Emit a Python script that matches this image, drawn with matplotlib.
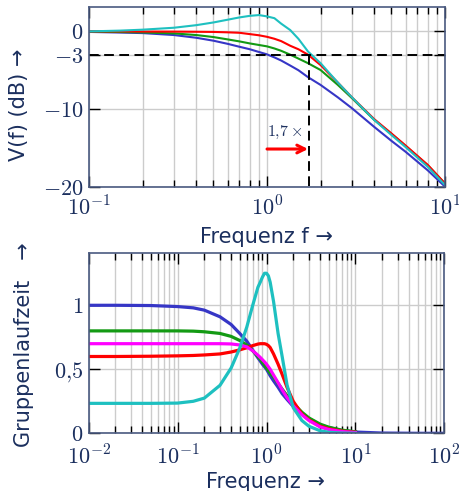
import matplotlib
matplotlib.use("Agg")
import matplotlib.pyplot as plt
from matplotlib.ticker import NullFormatter

plt.rcParams['mathtext.fontset'] = 'cm'

# --- Amplitudengang (dB) ---
f_top = [0.1, 0.15, 0.2, 0.3, 0.4, 0.5, 0.6, 0.7, 0.8, 0.9, 1.0, 1.1, 1.2,
         1.35, 1.5, 1.7, 2.0, 2.5, 3.0, 4.0, 5.0, 6.0, 8.0, 10.0]
v_blue = [-0.07, -0.15, -0.22, -0.47, -0.82, -1.2, -1.6, -1.98, -2.3, -2.65, -2.96,
          -3.35, -3.75, -4.4, -5.0, -5.9, -6.9, -8.5, -9.9, -12.3, -14.1, -15.5, -17.9, -20.0]
v_green = [-0.03, -0.08, -0.13, -0.26, -0.47, -0.73, -1.03, -1.29, -1.55, -1.75, -1.93,
           -2.2, -2.5, -3.0, -3.5, -4.1, -4.98, -6.9, -8.6, -11.4, -13.2, -14.75, -17.25, -19.6]
v_red = [0.0, 0.0, -0.02, -0.03, -0.05, -0.07, -0.12, -0.18, -0.35, -0.5, -0.7,
         -0.95, -1.25, -1.85, -2.3, -3.0, -4.34, -6.6, -8.5, -11.3, -13.15, -14.7, -17.2, -19.6]
v_cyan = [0.0, 0.1, 0.22, 0.47, 0.8, 1.15, 1.5, 1.8, 2.0, 2.1, 1.93,
          1.7, 1.0, 0.17, -0.95, -2.6, -4.1, -6.6, -8.5, -11.4, -13.35, -14.9, -17.45, -19.8]

# --- Gruppenlaufzeit ---
f_bot = [0.01, 0.02, 0.05, 0.1, 0.15, 0.2, 0.3, 0.4, 0.5, 0.6, 0.7, 0.8, 0.85, 0.9,
         0.95, 1.0, 1.05, 1.1, 1.2, 1.35, 1.5, 1.7, 2.0, 2.5, 3.0, 4.0, 5.0, 7.0, 10.0]
g_blue = [1.0, 1.0, 0.998, 0.99, 0.98, 0.962, 0.91, 0.85, 0.78, 0.72, 0.65, 0.59, 0.565, 0.54,
          0.52, 0.50, 0.475, 0.45, 0.41, 0.36, 0.31, 0.265, 0.21, 0.15, 0.115, 0.065, 0.045, 0.022, 0.01]
g_green = [0.80, 0.80, 0.80, 0.80, 0.798, 0.793, 0.78, 0.757, 0.725, 0.69, 0.645, 0.60, 0.578, 0.555,
           0.533, 0.51, 0.49, 0.47, 0.44, 0.39, 0.345, 0.295, 0.235, 0.165, 0.12, 0.072, 0.048, 0.025, 0.012]
g_red = [0.60, 0.60, 0.602, 0.605, 0.608, 0.612, 0.62, 0.635, 0.652, 0.668, 0.685, 0.697, 0.70, 0.70,
         0.70, 0.695, 0.685, 0.67, 0.62, 0.54, 0.46, 0.36, 0.25, 0.15, 0.105, 0.055, 0.035, 0.017, 0.008]
g_magenta = [0.70, 0.70, 0.70, 0.70, 0.70, 0.70, 0.70, 0.698, 0.69, 0.675, 0.645, 0.61, 0.593, 0.575,
             0.558, 0.54, 0.52, 0.50, 0.455, 0.395, 0.34, 0.28, 0.215, 0.145, 0.10, 0.05, 0.03, 0.014, 0.006]
g_cyan = [0.234, 0.234, 0.234, 0.236, 0.25, 0.275, 0.375, 0.51, 0.665, 0.83, 1.0, 1.14, 1.18, 1.22,
          1.25, 1.25, 1.23, 1.18, 1.03, 0.78, 0.6, 0.38, 0.2, 0.1, 0.055, 0.02, 0.008, 0.002, 0.0]
f_tail = [10.0, 20.0, 50.0, 100.0]
g_blue_tail = [0.01, 0.002, 0.0, 0.0]

navy = '#1b2f5e'
frame = '#4a5a80'
grid_c = '#cccccc'
c_blue, c_green, c_red, c_cyan, c_mag = '#3636c6', '#139a13', '#ff0000', '#1ec0c0', '#ff00ff'

fig = plt.figure(figsize=(4.6, 4.91), dpi=100)
ax1 = fig.add_axes([0.1935, 0.6198, 0.774, 0.3653])
ax2 = fig.add_axes([0.1928, 0.1175, 0.7731, 0.3666])


def style(ax):
    ax.set_xscale('log')
    ax.grid(which='both', axis='x', color=grid_c, lw=1)
    ax.grid(which='major', axis='y', color=grid_c, lw=1)
    ax.set_axisbelow(True)
    ax.tick_params(which='both', direction='in', top=True, right=True,
                   colors='black', labelcolor=navy, labelsize=16, width=1)
    ax.tick_params(which='major', length=8)
    ax.tick_params(which='minor', length=5)
    ax.tick_params(axis='x', which='major', pad=6)
    ax.tick_params(axis='y', which='major', pad=4)
    ax.xaxis.set_minor_formatter(NullFormatter())
    for s in ax.spines.values():
        s.set_color(frame)
        s.set_linewidth(1.2)


# oben
style(ax1)
ax1.plot(f_top, v_blue, color=c_blue, lw=1.5)
ax1.plot(f_top, v_green, color=c_green, lw=1.5)
ax1.plot(f_top, v_red, color=c_red, lw=1.5)
ax1.plot(f_top, v_cyan, color=c_cyan, lw=1.5)
ax1.plot([0.1, 10], [-3, -3], color='black', lw=1.4, ls=(0, (5, 2.8)))
ax1.plot([1.71, 1.71], [-3, -20], color='black', lw=1.4, ls=(0, (5, 2.8)))
ax1.annotate('', xy=(1.7, -15.15), xytext=(1.0, -15.15),
             arrowprops=dict(arrowstyle='->', color=c_red, lw=2.2,
                             mutation_scale=14, shrinkA=0, shrinkB=0))
ax1.text(1.0, -13.0, r'$1{,}7\times$', color=navy, fontsize=11.5, ha='left', va='center')
ax1.set_xlim(0.1, 10)
ax1.set_ylim(-20, 3.1)
ax1.set_xticks([0.1, 1, 10], [r'$10^{-1}$', r'$10^{0}$', r'$10^{1}$'])
ax1.set_yticks([0, -3, -10, -20], [r'$0$', r'$-3$', r'$-10$', r'$-20$'])

# unten
style(ax2)
ax2.tick_params(axis='x', which='major', pad=8)
ax2.plot(f_tail, g_blue_tail, color=c_blue, lw=2.3)
ax2.plot(f_bot, g_blue, color=c_blue, lw=2.3)
ax2.plot(f_bot, g_green, color=c_green, lw=2.3)
ax2.plot(f_bot, g_red, color=c_red, lw=2.3)
ax2.plot(f_bot, g_magenta, color=c_mag, lw=2.3)
ax2.plot(f_bot, g_cyan, color=c_cyan, lw=2.3)
ax2.set_xlim(0.01, 100)
ax2.set_ylim(0, 1.406)
ax2.set_xticks([0.01, 0.1, 1, 10, 100],
               [r'$10^{-2}$', r'$10^{-1}$', r'$10^{0}$', r'$10^{1}$', r'$10^{2}$'])
ax2.set_yticks([0, 0.5, 1], [r'$0$', r'$0{,}5$', r'$1$'])

fig.text(0.041, 0.786, 'V(f) (dB) →', rotation=90, color=navy, fontsize=15,
         ha='center', va='center')
fig.text(0.580, 0.517, 'Frequenz f →', color=navy, fontsize=15, ha='center', va='center')
fig.text(0.052, 0.298, 'Gruppenlaufzeit   →', rotation=90, color=navy, fontsize=15,
         ha='center', va='center')
fig.text(0.576, 0.018, 'Frequenz →', color=navy, fontsize=15, ha='center', va='center')

fig.savefig('out.png', dpi=100)
